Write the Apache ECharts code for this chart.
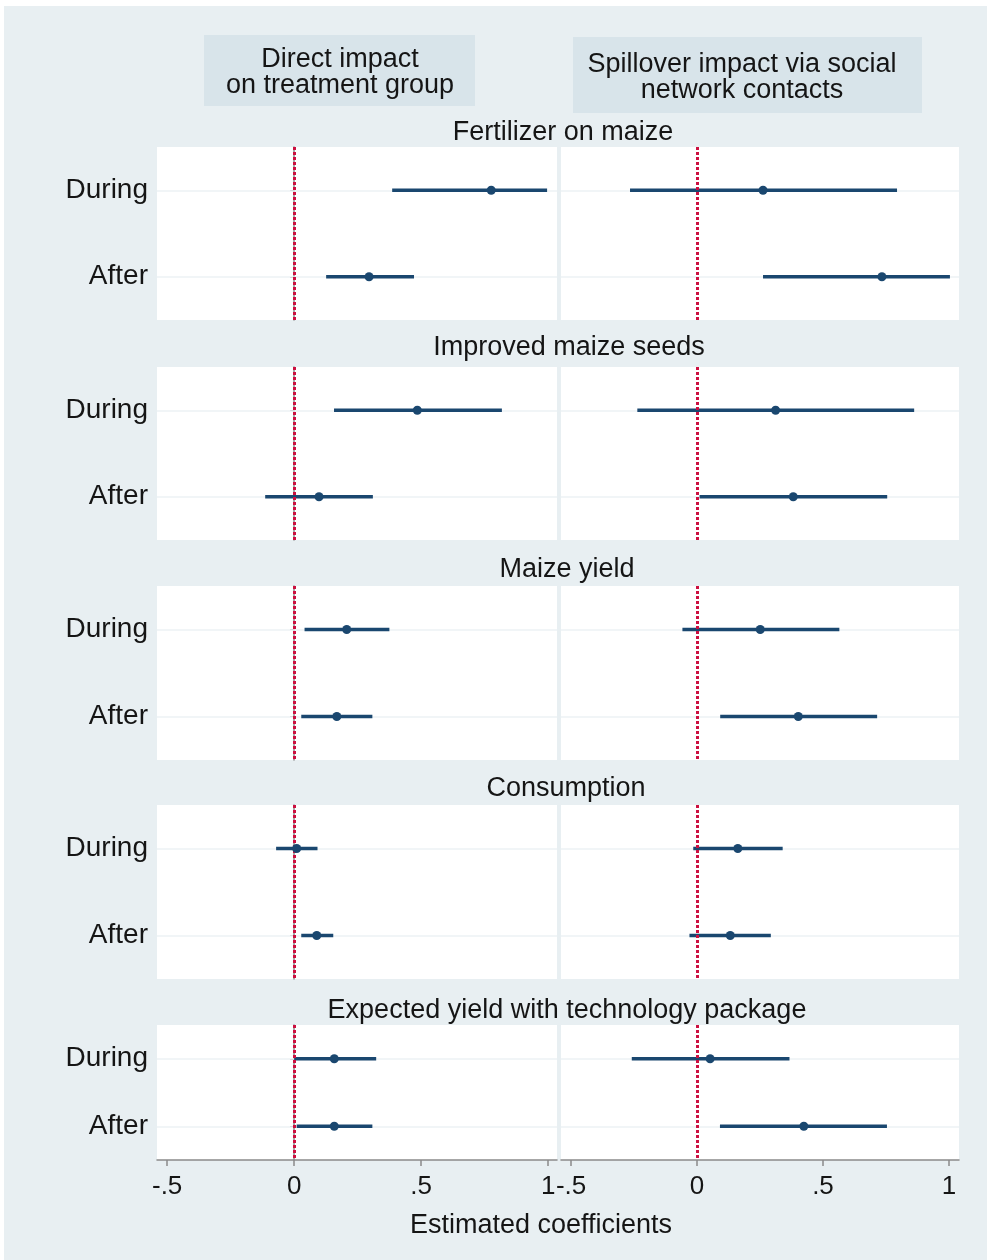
<!DOCTYPE html>
<html><head><meta charset="utf-8">
<script src="https://cdn.jsdelivr.net/npm/echarts@6/dist/echarts.min.js"></script>
<style>html,body{margin:0;padding:0;background:#fff}#c{width:987px;height:1260px}</style>
</head><body><div id="c"></div>
<script>
const outcomes = ['Fertilizer on maize','Improved maize seeds','Maize yield','Consumption','Expected yield with technology package'];
const periods = ['During','After'];
const panelTitles = ['Direct impact\non treatment group','Spillover impact via social\nnetwork contacts'];
const xTicks = [-0.5, 0, 0.5, 1];
const xTickLabels = ['-.5','0','.5','1'];
const xAxisTitle = 'Estimated coefficients';

// [During, After] per outcome
const directEst = [[0.776,0.295],[0.485,0.098],[0.207,0.168],[0.010,0.089],[0.158,0.158]];
const directLo  = [[0.386,0.126],[0.157,-0.114],[0.041,0.028],[-0.071,0.028],[0.000,0.010]];
const directHi  = [[0.996,0.472],[0.818,0.310],[0.375,0.308],[0.092,0.154],[0.323,0.308]];
const spillEst  = [[0.262,0.734],[0.312,0.382],[0.251,0.402],[0.162,0.132],[0.052,0.424]];
const spillLo   = [[-0.266,0.262],[-0.237,0.010],[-0.058,0.092],[-0.015,-0.030],[-0.259,0.091]];
const spillHi   = [[0.794,1.004],[0.862,0.755],[0.565,0.715],[0.340,0.293],[0.367,0.754]];

const FONT = '"Liberation Sans", Arial, sans-serif';
const NAVY = '#1a476f';
const RED = '#cc1040';
const BG = '#e8eff2';
const BOX = '#d8e4ea';
const TXT = '#151515';

const rowTops = [147, 367, 586, 805, 1025];
const rowHeights = [173, 173, 174, 174, 135];
const colLeft = [157, 561];
const colWidth = [400, 398];
const colMax = [1.035, 1.04];
const xMin = -0.54;

const grids = [], xAxes = [], yAxes = [], series = [];
const estSets = [directEst, spillEst], loSets = [directLo, spillLo], hiSets = [directHi, spillHi];

function renderCI(params, api) {
  const c = api.value(0);
  const p1 = api.coord([api.value(1), c]);
  const p2 = api.coord([api.value(2), c]);
  return { type: 'line', shape: {x1: p1[0], y1: p1[1], x2: p2[0], y2: p2[1]},
           style: {stroke: NAVY, lineWidth: 3.5, opacity: 1} };
}

let gi = 0;
for (let r = 0; r < outcomes.length; r++) {
  for (let c = 0; c < 2; c++) {
    const last = r === outcomes.length - 1;
    grids.push({left: colLeft[c], top: rowTops[r], width: colWidth[c], height: rowHeights[r],
      show: true, backgroundColor: '#ffffff', borderWidth: 0, containLabel: false});
    xAxes.push({type: 'value', gridIndex: gi, min: xMin, max: colMax[c],
      splitLine: {show: false},
      axisLine: {show: last, onZero: false, lineStyle: {color: '#8a8a8a', width: 1.5}},
      axisTick: {show: last, customValues: xTicks, length: 6, lineStyle: {color: '#8a8a8a', width: 1.5}},
      axisLabel: {show: last, customValues: xTicks, margin: 14, fontSize: 26, color: TXT, fontFamily: FONT,
        formatter: v => { const i = xTicks.findIndex(t => Math.abs(t - v) < 1e-9); return i >= 0 ? xTickLabels[i] : ''; }}
    });
    yAxes.push({type: 'category', gridIndex: gi, data: periods, inverse: true, boundaryGap: true,
      axisLine: {show: c === 0, lineStyle: {color: '#8a8a8a', width: 1.5}},
      axisTick: {show: c === 0, alignWithLabel: true, length: 4, lineStyle: {color: '#8a8a8a', width: 1}},
      axisLabel: {show: c === 0, fontSize: 28, color: TXT, fontFamily: FONT, margin: 9, padding: [4, 0, 0, 0]},
      splitLine: {show: false}
    });
    const est = estSets[c][r], lo = loSets[c][r], hi = hiSets[c][r];
    // gridlines
    series.push({type: 'scatter', xAxisIndex: gi, yAxisIndex: gi, symbol: 'none', silent: true, z: 1,
      data: periods.map((p, i) => [est[i], p]),
      markLine: {silent: true, symbol: ['none','none'], label: {show: false}, animation: false, z: 1,
        lineStyle: {color: '#edf2f4', width: 1.5, type: 'solid'},
        data: periods.map(p => ({yAxis: p}))}
    });
    // CI lines
    series.push({type: 'custom', xAxisIndex: gi, yAxisIndex: gi, renderItem: renderCI, z: 2,
      encode: {x: [1, 2], y: 0},
      data: periods.map((p, i) => [i, lo[i], hi[i]])
    });
    // zero reference line
    series.push({type: 'scatter', xAxisIndex: gi, yAxisIndex: gi, symbol: 'none', silent: true, z: 3,
      data: periods.map((p, i) => [est[i], p]),
      markLine: {silent: true, symbol: ['none','none'], label: {show: false}, animation: false, z: 3,
        lineStyle: {color: RED, width: 3, type: [3, 2]},
        data: [{xAxis: 0}]}
    });
    // point estimates
    series.push({type: 'scatter', xAxisIndex: gi, yAxisIndex: gi, symbol: 'circle', symbolSize: 9, z: 4,
      itemStyle: {color: NAVY, opacity: 1}, data: periods.map((p, i) => [est[i], p])});
    gi++;
  }
}

const titleCenters = [563, 569, 567, 566, 567];
const titleY = [133, 348, 570, 789, 1011];
const graphic = [
  {type: 'rect', shape: {x: 4, y: 6, width: 983, height: 1254}, style: {fill: BG}, z: -10, silent: true},
  {type: 'rect', shape: {x: 204, y: 35, width: 271, height: 71}, style: {fill: BOX}, z: -5},
  {type: 'text', x: 340, y: 73, style: {text: panelTitles[0], fontSize: 27, fontFamily: FONT, fill: TXT,
    align: 'center', verticalAlign: 'middle', lineHeight: 26}},
  {type: 'rect', shape: {x: 573, y: 37, width: 349, height: 76}, style: {fill: BOX}, z: -5},
  {type: 'text', x: 742, y: 78, style: {text: panelTitles[1], fontSize: 27, fontFamily: FONT, fill: TXT,
    align: 'center', verticalAlign: 'middle', lineHeight: 26}},
  {type: 'text', x: 541, y: 1226, style: {text: xAxisTitle, fontSize: 27, fontFamily: FONT, fill: TXT,
    align: 'center', verticalAlign: 'middle'}}
];
outcomes.forEach((o, i) => graphic.push({type: 'text', x: titleCenters[i], y: titleY[i],
  style: {text: o, fontSize: 27, fontFamily: FONT, fill: TXT, align: 'center', verticalAlign: 'middle'}}));

const chart = echarts.init(document.getElementById('c'), null, {renderer: 'canvas'});
chart.setOption({
  backgroundColor: '#ffffff',
  animation: false,
  grid: grids, xAxis: xAxes, yAxis: yAxes, series: series, graphic: graphic
});
</script></body></html>
